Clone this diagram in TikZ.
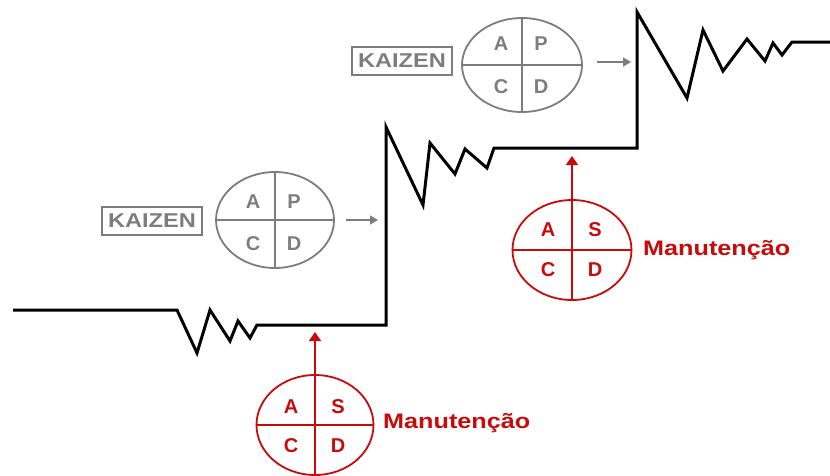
\documentclass[tikz,border=0pt]{standalone}
\usepackage{fontspec}
\setmainfont{Liberation Sans}
\usetikzlibrary{shapes.geometric,arrows.meta}
\definecolor{kgrey}{RGB}{125,125,125}
\definecolor{mred}{RGB}{200,10,10}
\begin{document}
\begin{tikzpicture}[x=1pt,y=-1pt,
  pdca/.style={ellipse,draw,line width=1.8pt,inner sep=0pt},
  letter/.style={font=\fontsize{20}{20}\selectfont\bfseries,inner sep=0pt},
  kbox/.style={draw=kgrey,line width=1.8pt,text=kgrey,minimum width=100pt,minimum height=28pt,inner sep=0pt,font=\fontsize{20}{20}\selectfont\bfseries},
  mlabel/.style={text=mred,anchor=west,inner sep=0pt,font=\fontsize{21}{21}\selectfont\bfseries},
  garrow/.style={draw=kgrey,line width=1.4pt,-{Triangle[length=8pt,width=9pt]}},
  rarrow/.style={draw=mred,line width=1.7pt,-{Triangle[length=9pt,width=12pt]}},
  stepline/.style={line width=3pt,line join=miter}]
\useasboundingbox (0,0) rectangle (830,475);
% black staircase line
\draw[stepline] (13,310) -- (177,310) -- (197,353) -- (210,310) -- (230,341) -- (238,321) -- (250,338) -- (257,325) -- (386,325) -- (386,127)
  -- (423,205) -- (430,143) -- (455,174) -- (465,149) -- (487,168) -- (494,148) -- (637,148) -- (637,12)
  -- (687,98) -- (703,30) -- (723,71) -- (747,39) -- (765,61) -- (773,43) -- (782,55) -- (792,42) -- (830,42);
\coordinate (step1) at (378,220);
\coordinate (step2) at (631,62);
\coordinate (base1) at (315,332);
\coordinate (base2) at (572,156);
% lower KAIZEN
\node[kbox] (k1) at (152,221) {\scalebox{1.18}[1]{KAIZEN}};
\node[pdca,draw=kgrey,minimum width=118pt,minimum height=96pt] (e1) at (275,220) {};
\draw[kgrey,line width=1.8pt] (e1.north) -- (e1.south) (e1.west) -- (e1.east);
\node[letter,text=kgrey] (a1) at (253,202) {A};
\node[letter,text=kgrey] (p1) at (294,202) {P};
\node[letter,text=kgrey] (c1) at (253,244) {C};
\node[letter,text=kgrey] (d1) at (294,244) {D};
\draw[garrow] ([xshift=11pt]e1.east |- step1) -- (step1);
% upper KAIZEN
\node[kbox] (k2) at (402,61) {\scalebox{1.18}[1]{KAIZEN}};
\node[pdca,draw=kgrey,minimum width=120pt,minimum height=94pt] (e2) at (522,65) {};
\draw[kgrey,line width=1.8pt] (e2.north) -- (e2.south) (e2.west) -- (e2.east);
\node[letter,text=kgrey] (a2) at (501,44) {A};
\node[letter,text=kgrey] (p2) at (541,44) {P};
\node[letter,text=kgrey] (c2) at (501,87) {C};
\node[letter,text=kgrey] (d2) at (541,87) {D};
\draw[garrow] ([xshift=14pt]e2.east |- step2) -- (step2);
% lower Manutencao
\node[pdca,draw=mred,minimum width=117pt,minimum height=100pt] (m1) at (315,425) {};
\draw[mred,line width=1.8pt] (m1.north) -- (m1.south) (m1.west) -- (m1.east);
\node[letter,text=mred] (a3) at (291,407) {A};
\node[letter,text=mred] (s3) at (338,407) {S};
\node[letter,text=mred] (c3) at (291,446) {C};
\node[letter,text=mred] (d3) at (338,446) {D};
\node[mlabel] (t1) at (383,423) {\scalebox{1.2}[1]{Manutenção}};
\draw[rarrow] ([yshift=-12pt]m1.north) -- (base1);
% upper Manutencao
\node[pdca,draw=mred,minimum width=119pt,minimum height=100pt] (m2) at (572,250) {};
\draw[mred,line width=1.8pt] (m2.north) -- (m2.south) (m2.west) -- (m2.east);
\node[letter,text=mred] (a4) at (548,230) {A};
\node[letter,text=mred] (s4) at (595,230) {S};
\node[letter,text=mred] (c4) at (548,270) {C};
\node[letter,text=mred] (d4) at (595,270) {D};
\node[mlabel] (t2) at (643,250) {\scalebox{1.2}[1]{Manutenção}};
\draw[rarrow] ([yshift=-10pt]m2.north) -- (base2);
\end{tikzpicture}
\end{document}
